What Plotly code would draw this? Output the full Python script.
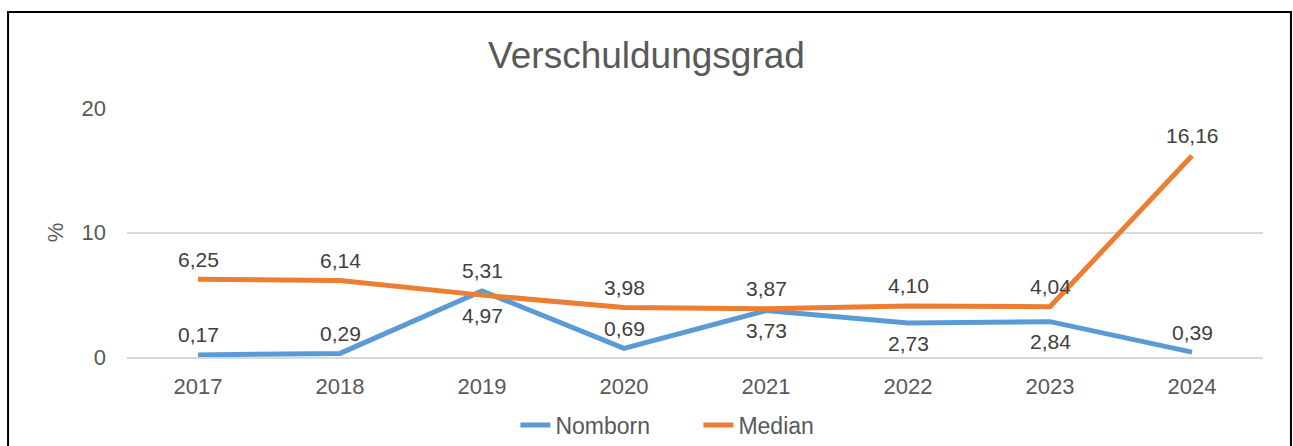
"""Verschuldungsgrad: Nomborn vs. Median, 2017-2024."""
import plotly.graph_objects as go

years = ["2017", "2018", "2019", "2020", "2021", "2022", "2023", "2024"]
nomborn = [0.17, 0.29, 5.31, 0.69, 3.73, 2.73, 2.84, 0.39]
median = [6.25, 6.14, 4.97, 3.98, 3.87, 4.10, 4.04, 16.16]

# label placement as in the original: +1 above the point, -1 below
nomborn_side = [1, 1, 1, 1, -1, -1, -1, 1]
median_side = [1, 1, -1, 1, 1, 1, 1, 1]

BLUE = "#5B9BD5"
ORANGE = "#ED7D31"
TEXT = "#595959"
LABEL = "#404040"
GRID = "#D9D9D9"
FONT = "Liberation Sans, Arial, sans-serif"


def fmt(v):
    return f"{v:.2f}".replace(".", ",")


fig = go.Figure()
fig.add_trace(go.Scatter(
    x=years, y=nomborn, name="Nomborn",
    mode="lines", line=dict(color=BLUE, width=5),
))
fig.add_trace(go.Scatter(
    x=years, y=median, name="Median",
    mode="lines", line=dict(color=ORANGE, width=5),
))

# data labels, German decimal comma
# (category axis: annotations take the category index, "2017" would be read as 2017)
for vals, sides in ((nomborn, nomborn_side), (median, median_side)):
    for i, (v, s) in enumerate(zip(vals, sides)):
        fig.add_annotation(
            x=i, y=v, text=fmt(v), showarrow=False,
            yshift=20 * s, font=dict(size=21, color=LABEL),
        )

# outer frame of the chart (bottom edge is cut off in the original)
fig.add_shape(
    type="rect", xref="paper", yref="paper",
    x0=-0.1047, x1=1.0246, y0=-0.45, y1=1.3855,
    line=dict(color="black", width=2),
    layer="above",
)

fig.update_layout(
    width=1293, height=446,
    margin=dict(l=127, r=30, t=108, b=89),
    paper_bgcolor="white", plot_bgcolor="white",
    font=dict(family=FONT, color=TEXT, size=21),
    title=dict(text="Verschuldungsgrad", x=0.5, xanchor="center",
               y=1 - 55 / 446, yanchor="middle",
               font=dict(size=37, color=TEXT)),
    xaxis=dict(
        type="category", range=[-0.5, 7.5], automargin=False,
        showgrid=False, showline=True, linecolor=GRID, linewidth=1.5,
        ticks="", ticklabelstandoff=9,
        tickfont=dict(size=22, color=TEXT),
    ),
    yaxis=dict(
        range=[0, 20], tickvals=[0, 10, 20], automargin=False,
        showgrid=True, gridcolor=GRID, gridwidth=1.5,
        zeroline=False, ticks="", ticklabelstandoff=20,
        tickfont=dict(size=22, color=TEXT),
        title=dict(text="%", font=dict(size=22, color=TEXT), standoff=11),
    ),
    legend=dict(orientation="h", x=0.503, xanchor="center",
                yref="container", y=1 - 425 / 446, yanchor="middle",
                entrywidth=138, entrywidthmode="pixels",
                font=dict(size=23, color=TEXT)),
    showlegend=True,
)

# drop the default 8px page margin so the figure sits at the window origin
fig.write_html("out.html", config={"displayModeBar": False},
               post_script="document.body.style.margin='0';")
